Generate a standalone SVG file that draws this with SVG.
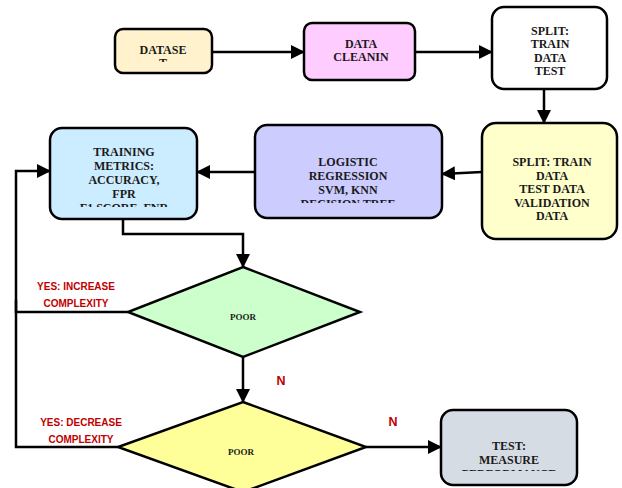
<svg xmlns="http://www.w3.org/2000/svg" width="622" height="488" viewBox="0 0 622 488">
<style>
.box{stroke:#000;stroke-width:2.5}
.t{font-family:"Liberation Serif","Times New Roman",serif;font-weight:bold;font-size:12px;fill:#1a1a1a;text-anchor:middle}
.s{font-size:9px}
.r{font-family:"Liberation Sans",Arial,sans-serif;font-weight:bold;font-size:10px;fill:#c00000;text-anchor:middle}
.n{font-size:12.5px}
.c{fill:none;stroke:#000;stroke-width:2.5}
</style>
<defs>
<marker id="ah" markerUnits="userSpaceOnUse" markerWidth="14" markerHeight="14" refX="13" refY="7" orient="auto">
<path d="M0,0 L14,7 L0,14 z" fill="#000"/>
</marker>
<clipPath id="cDs"><rect x="115" y="29" width="97" height="33"/></clipPath>
<clipPath id="cTr"><rect x="50" y="128" width="147" height="79"/></clipPath>
<clipPath id="cLg"><rect x="255" y="125" width="187" height="78"/></clipPath>
<clipPath id="cP1"><rect x="128" y="267" width="232" height="57"/></clipPath>
<clipPath id="cTs"><rect x="441" y="410" width="136" height="61"/></clipPath>
</defs>
<g id="connectors">
<line class="c" x1="212" y1="52" x2="304" y2="52" marker-end="url(#ah)"/>
<line class="c" x1="415" y1="52" x2="492" y2="52" marker-end="url(#ah)"/>
<line class="c" x1="544" y1="89" x2="544" y2="123" marker-end="url(#ah)"/>
<line class="c" x1="482" y1="172" x2="442" y2="174" marker-end="url(#ah)"/>
<line class="c" x1="255" y1="172" x2="197" y2="172" marker-end="url(#ah)"/>
<path class="c" d="M123,219 V234 H243 V267" marker-end="url(#ah)"/>
<path class="c" d="M128,312 H16 V171 H50" marker-end="url(#ah)"/>
<path class="c" d="M118,447 H16 V300"/>
<line class="c" x1="243" y1="357" x2="243" y2="402" marker-end="url(#ah)"/>
<line class="c" x1="366" y1="447" x2="441" y2="447" marker-end="url(#ah)"/>
</g>
<g id="dataset">
<rect class="box" x="115" y="29" width="97" height="44" rx="8" fill="#FFF2CC"/>
<text class="t" x="163" y="54" clip-path="url(#cDs)">DATASE<tspan x="163" dy="13">T</tspan></text>
</g>
<g id="cleaning">
<rect class="box" x="304" y="23" width="111" height="57" rx="8" fill="#FFCCFF"/>
<text class="t" x="361" y="48">DATA<tspan x="361" dy="13">CLEANIN</tspan></text>
</g>
<g id="split1">
<rect class="box" x="492" y="7" width="115" height="82" rx="12" fill="#FFFFFF"/>
<text class="t" x="550" y="35">SPLIT:<tspan x="550" dy="13">TRAIN</tspan><tspan x="550" dy="14">DATA</tspan><tspan x="550" dy="13">TEST</tspan></text>
</g>
<g id="split2">
<rect class="box" x="482" y="123" width="135" height="116" rx="14" fill="#FFFFCC"/>
<text class="t" x="552" y="166">SPLIT: TRAIN<tspan x="552" dy="14">DATA</tspan><tspan x="552" dy="13">TEST DATA</tspan><tspan x="552" dy="14">VALIDATION</tspan><tspan x="552" dy="13">DATA</tspan></text>
</g>
<g id="models">
<rect class="box" x="255" y="125" width="187" height="93" rx="12" fill="#CCCCFF"/>
<text class="t" x="348" y="166" clip-path="url(#cLg)">LOGISTIC<tspan x="348" dy="14">REGRESSION</tspan><tspan x="348" dy="14">SVM, KNN</tspan><tspan x="348" dy="14">DECISION TREE</tspan></text>
</g>
<g id="training">
<rect class="box" x="50" y="128" width="147" height="91" rx="12" fill="#CCECFF"/>
<text class="t" x="124" y="156" clip-path="url(#cTr)">TRAINING<tspan x="124" dy="14">METRICS:</tspan><tspan x="124" dy="14">ACCURACY,</tspan><tspan x="124" dy="14">FPR</tspan><tspan x="124" dy="14">F1 SCORE, FNR</tspan></text>
</g>
<g id="decision1">
<polygon class="box" points="243,267 360,312 243,357 128,312" fill="#CCFFCC"/>
<text class="t s" x="243" y="320" clip-path="url(#cP1)">POOR<tspan x="243" dy="10">TRAINING</tspan></text>
</g>
<g id="decision2">
<polygon class="box" points="243,402 366,447 243,492 118,447" fill="#FFFF99"/>
<text class="t s" x="241" y="455">POOR</text>
</g>
<g id="test">
<rect class="box" x="441" y="410" width="136" height="75" rx="12" fill="#D6DCE4"/>
<text class="t" x="509" y="450" clip-path="url(#cTs)">TEST:<tspan x="509" dy="14">MEASURE</tspan><tspan x="509" dy="14">PERFORMANCE</tspan></text>
</g>
<g id="labels">
<text class="r" x="76" y="290">YES: INCREASE</text>
<text class="r" x="76" y="307">COMPLEXITY</text>
<text class="r" x="81" y="426">YES: DECREASE</text>
<text class="r" x="81" y="443">COMPLEXITY</text>
<text class="r n" x="281" y="385">N</text>
<text class="r n" x="393" y="426">N</text>
</g>
</svg>
